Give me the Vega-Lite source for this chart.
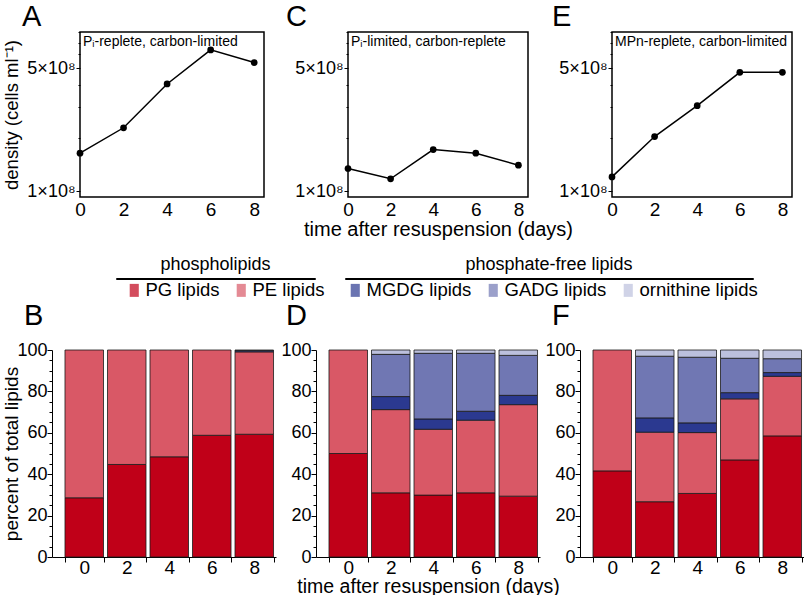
{
  "$schema": "https://vega.github.io/schema/vega-lite/v6.json",
  "padding": {"left": 2, "top": 1, "right": 0, "bottom": 0},
  "background": "white",
  "config": {
    "font": "Liberation Sans",
    "view": {"stroke": null},
    "axis": {"labelFont": "Liberation Sans", "titleFont": "Liberation Sans", "labelColor": "black", "titleColor": "black", "domainColor": "black", "tickColor": "black", "grid": false, "titleFontWeight": "normal"},
    "title": {"fontWeight": "normal", "fontSize": 29, "anchor": "start", "frame": "group", "color": "black", "font": "Liberation Sans"},
    "legend": {"labelFont": "Liberation Sans", "labelColor": "black"}
  },
  "datasets": {
    "density": [
      {"panel": "A", "day": 0, "density": 165000000},
      {"panel": "A", "day": 2, "density": 230000000},
      {"panel": "A", "day": 4, "density": 408000000},
      {"panel": "A", "day": 6, "density": 637000000},
      {"panel": "A", "day": 8, "density": 540000000},
      {"panel": "C", "day": 0, "density": 135000000},
      {"panel": "C", "day": 2, "density": 118000000},
      {"panel": "C", "day": 4, "density": 173000000},
      {"panel": "C", "day": 6, "density": 165000000},
      {"panel": "C", "day": 8, "density": 141000000},
      {"panel": "E", "day": 0, "density": 121000000},
      {"panel": "E", "day": 2, "density": 205000000},
      {"panel": "E", "day": 4, "density": 307000000},
      {"panel": "E", "day": 6, "density": 475000000},
      {"panel": "E", "day": 8, "density": 475000000}
    ],
    "conditions": [
      {"panel": "A", "label": "Pᵢ-replete, carbon-limited"},
      {"panel": "C", "label": "Pᵢ-limited, carbon-replete"},
      {"panel": "E", "label": "MPn-replete, carbon-limited"}
    ],
    "lipids": [
      {"panel": "B", "day": 0, "lipid": "PG lipids", "percent": 28.6},
      {"panel": "B", "day": 0, "lipid": "PE lipids", "percent": 71.4},
      {"panel": "B", "day": 2, "lipid": "PG lipids", "percent": 44.7},
      {"panel": "B", "day": 2, "lipid": "PE lipids", "percent": 55.3},
      {"panel": "B", "day": 4, "lipid": "PG lipids", "percent": 48.4},
      {"panel": "B", "day": 4, "lipid": "PE lipids", "percent": 51.6},
      {"panel": "B", "day": 6, "lipid": "PG lipids", "percent": 58.8},
      {"panel": "B", "day": 6, "lipid": "PE lipids", "percent": 41.2},
      {"panel": "B", "day": 8, "lipid": "PG lipids", "percent": 59.3},
      {"panel": "B", "day": 8, "lipid": "PE lipids", "percent": 39.8},
      {"panel": "B", "day": 8, "lipid": "MGDG lipids", "percent": 0.6},
      {"panel": "B", "day": 8, "lipid": "GADG lipids", "percent": 0.3},
      {"panel": "D", "day": 0, "lipid": "PG lipids", "percent": 50.0},
      {"panel": "D", "day": 0, "lipid": "PE lipids", "percent": 50.0},
      {"panel": "D", "day": 2, "lipid": "PG lipids", "percent": 31.0},
      {"panel": "D", "day": 2, "lipid": "PE lipids", "percent": 40.2},
      {"panel": "D", "day": 2, "lipid": "MGDG lipids", "percent": 6.3},
      {"panel": "D", "day": 2, "lipid": "GADG lipids", "percent": 20.4},
      {"panel": "D", "day": 2, "lipid": "ornithine lipids", "percent": 2.1},
      {"panel": "D", "day": 4, "lipid": "PG lipids", "percent": 29.9},
      {"panel": "D", "day": 4, "lipid": "PE lipids", "percent": 31.8},
      {"panel": "D", "day": 4, "lipid": "MGDG lipids", "percent": 5.0},
      {"panel": "D", "day": 4, "lipid": "GADG lipids", "percent": 31.7},
      {"panel": "D", "day": 4, "lipid": "ornithine lipids", "percent": 1.6},
      {"panel": "D", "day": 6, "lipid": "PG lipids", "percent": 31.0},
      {"panel": "D", "day": 6, "lipid": "PE lipids", "percent": 35.1},
      {"panel": "D", "day": 6, "lipid": "MGDG lipids", "percent": 4.3},
      {"panel": "D", "day": 6, "lipid": "GADG lipids", "percent": 28.0},
      {"panel": "D", "day": 6, "lipid": "ornithine lipids", "percent": 1.6},
      {"panel": "D", "day": 8, "lipid": "PG lipids", "percent": 29.4},
      {"panel": "D", "day": 8, "lipid": "PE lipids", "percent": 44.2},
      {"panel": "D", "day": 8, "lipid": "MGDG lipids", "percent": 4.5},
      {"panel": "D", "day": 8, "lipid": "GADG lipids", "percent": 19.3},
      {"panel": "D", "day": 8, "lipid": "ornithine lipids", "percent": 2.6},
      {"panel": "F", "day": 0, "lipid": "PG lipids", "percent": 41.6},
      {"panel": "F", "day": 0, "lipid": "PE lipids", "percent": 58.4},
      {"panel": "F", "day": 2, "lipid": "PG lipids", "percent": 26.7},
      {"panel": "F", "day": 2, "lipid": "PE lipids", "percent": 33.6},
      {"panel": "F", "day": 2, "lipid": "MGDG lipids", "percent": 6.9},
      {"panel": "F", "day": 2, "lipid": "GADG lipids", "percent": 29.8},
      {"panel": "F", "day": 2, "lipid": "ornithine lipids", "percent": 3.0},
      {"panel": "F", "day": 4, "lipid": "PG lipids", "percent": 30.7},
      {"panel": "F", "day": 4, "lipid": "PE lipids", "percent": 29.4},
      {"panel": "F", "day": 4, "lipid": "MGDG lipids", "percent": 4.7},
      {"panel": "F", "day": 4, "lipid": "GADG lipids", "percent": 31.7},
      {"panel": "F", "day": 4, "lipid": "ornithine lipids", "percent": 3.5},
      {"panel": "F", "day": 6, "lipid": "PG lipids", "percent": 46.9},
      {"panel": "F", "day": 6, "lipid": "PE lipids", "percent": 29.5},
      {"panel": "F", "day": 6, "lipid": "MGDG lipids", "percent": 3.0},
      {"panel": "F", "day": 6, "lipid": "GADG lipids", "percent": 16.6},
      {"panel": "F", "day": 6, "lipid": "ornithine lipids", "percent": 4.0},
      {"panel": "F", "day": 8, "lipid": "PG lipids", "percent": 58.5},
      {"panel": "F", "day": 8, "lipid": "PE lipids", "percent": 28.8},
      {"panel": "F", "day": 8, "lipid": "MGDG lipids", "percent": 1.8},
      {"panel": "F", "day": 8, "lipid": "GADG lipids", "percent": 6.7},
      {"panel": "F", "day": 8, "lipid": "ornithine lipids", "percent": 4.2}
    ]
  },
  "spacing": 1,
  "resolve": {"scale": {"color": "independent"}, "legend": {"color": "independent"}},
  "vconcat": [
    {
      "bounds": "flush",
      "spacing": 1,
      "hconcat": [
        {
          "width": 27, "height": 165,
          "data": {"name": "lipids"},
          "transform": [{"filter": "false"}],
          "mark": "point"
        },
        {
          "bounds": "flush",
          "spacing": 84,
          "resolve": {"scale": {"x": "independent", "y": "independent"}},
          "hconcat": [
            {
              "width": 184, "height": 165,
              "title": {"text": "A", "dx": -58, "offset": 0},
              "view": {"stroke": "black", "strokeWidth": 1.5},
              "layer": [
                {"data": {"name": "density"}, "transform": [{"filter": "datum.panel == 'A'"}], "mark": {"type": "line", "color": "black", "strokeWidth": 1.5},
                 "encoding": {
                  "x": {"field": "day", "type": "quantitative", "scale": {"domain": [0, 8.45], "nice": false}, "axis": {"values": [0, 2, 4, 6, 8], "ticks": false, "domain": false, "labelFontSize": 19, "labelPadding": 3, "labelFlush": false, "title": null}},
                  "y": {"field": "density", "type": "quantitative", "scale": {"type": "log", "domain": [93000000, 805000000], "nice": false}, "axis": {"values": [100000000, 200000000, 300000000, 400000000, 500000000, 600000000, 700000000, 800000000], "labelExpr": "datum.value == 100000000 ? '1×10⁸' : datum.value == 500000000 ? '5×10⁸' : ''", "tickSize": {"condition": {"test": "datum.value == 100000000 || datum.value == 500000000", "value": 4}, "value": 2}, "domain": false, "labelFontSize": 18, "labelPadding": 1, "labelFlush": false, "title": "density (cells ml⁻¹)", "titleFontSize": 18.5, "titlePadding": 5}}
                 }},
                {"data": {"name": "density"}, "transform": [{"filter": "datum.panel == 'A'"}], "mark": {"type": "circle", "color": "black", "size": 45, "opacity": 1},
                 "encoding": {"x": {"field": "day", "type": "quantitative"}, "y": {"field": "density", "type": "quantitative"}}},
                {"data": {"name": "conditions"}, "transform": [{"filter": "datum.panel == 'A'"}], "mark": {"type": "text", "align": "left", "baseline": "top", "dx": 3, "dy": 3, "fontSize": 14, "color": "black"},
                 "encoding": {"x": {"datum": 0, "type": "quantitative"}, "y": {"datum": 805000000, "type": "quantitative"}, "text": {"field": "label", "type": "nominal"}}}
              ]
            },
            {
              "width": 180, "height": 165,
              "title": {"text": "C", "dx": -62, "offset": 0},
              "view": {"stroke": "black", "strokeWidth": 1.5},
              "layer": [
                {"data": {"name": "density"}, "transform": [{"filter": "datum.panel == 'C'"}], "mark": {"type": "line", "color": "black", "strokeWidth": 1.5},
                 "encoding": {
                  "x": {"field": "day", "type": "quantitative", "scale": {"domain": [0, 8.45], "nice": false}, "axis": {"values": [0, 2, 4, 6, 8], "ticks": false, "domain": false, "labelFontSize": 19, "labelPadding": 3, "labelFlush": false, "title": "time after resuspension (days)", "titleFontSize": 20, "titlePadding": 0}},
                  "y": {"field": "density", "type": "quantitative", "scale": {"type": "log", "domain": [93000000, 805000000], "nice": false}, "axis": {"values": [100000000, 200000000, 300000000, 400000000, 500000000, 600000000, 700000000, 800000000], "labelExpr": "datum.value == 100000000 ? '1×10⁸' : datum.value == 500000000 ? '5×10⁸' : ''", "tickSize": {"condition": {"test": "datum.value == 100000000 || datum.value == 500000000", "value": 4}, "value": 2}, "domain": false, "labelFontSize": 18, "labelPadding": 1, "labelFlush": false, "title": null}}
                 }},
                {"data": {"name": "density"}, "transform": [{"filter": "datum.panel == 'C'"}], "mark": {"type": "circle", "color": "black", "size": 45, "opacity": 1},
                 "encoding": {"x": {"field": "day", "type": "quantitative"}, "y": {"field": "density", "type": "quantitative"}}},
                {"data": {"name": "conditions"}, "transform": [{"filter": "datum.panel == 'C'"}], "mark": {"type": "text", "align": "left", "baseline": "top", "dx": 3, "dy": 3, "fontSize": 14, "color": "black"},
                 "encoding": {"x": {"datum": 0, "type": "quantitative"}, "y": {"datum": 805000000, "type": "quantitative"}, "text": {"field": "label", "type": "nominal"}}}
              ]
            },
            {
              "width": 180, "height": 165,
              "title": {"text": "E", "dx": -60, "offset": 0},
              "view": {"stroke": "black", "strokeWidth": 1.5},
              "layer": [
                {"data": {"name": "density"}, "transform": [{"filter": "datum.panel == 'E'"}], "mark": {"type": "line", "color": "black", "strokeWidth": 1.5},
                 "encoding": {
                  "x": {"field": "day", "type": "quantitative", "scale": {"domain": [0, 8.45], "nice": false}, "axis": {"values": [0, 2, 4, 6, 8], "ticks": false, "domain": false, "labelFontSize": 19, "labelPadding": 3, "labelFlush": false, "title": null}},
                  "y": {"field": "density", "type": "quantitative", "scale": {"type": "log", "domain": [93000000, 805000000], "nice": false}, "axis": {"values": [100000000, 200000000, 300000000, 400000000, 500000000, 600000000, 700000000, 800000000], "labelExpr": "datum.value == 100000000 ? '1×10⁸' : datum.value == 500000000 ? '5×10⁸' : ''", "tickSize": {"condition": {"test": "datum.value == 100000000 || datum.value == 500000000", "value": 4}, "value": 2}, "domain": false, "labelFontSize": 18, "labelPadding": 1, "labelFlush": false, "title": null}}
                 }},
                {"data": {"name": "density"}, "transform": [{"filter": "datum.panel == 'E'"}], "mark": {"type": "circle", "color": "black", "size": 45, "opacity": 1},
                 "encoding": {"x": {"field": "day", "type": "quantitative"}, "y": {"field": "density", "type": "quantitative"}}},
                {"data": {"name": "conditions"}, "transform": [{"filter": "datum.panel == 'E'"}], "mark": {"type": "text", "align": "left", "baseline": "top", "dx": 3, "dy": 3, "fontSize": 14, "color": "black"},
                 "encoding": {"x": {"datum": 0, "type": "quantitative"}, "y": {"datum": 805000000, "type": "quantitative"}, "text": {"field": "label", "type": "nominal"}}}
              ]
            }
          ]
        }
      ]
    },
    {
      "spacing": 18,
      "resolve": {"scale": {"color": "independent"}, "legend": {"color": "independent"}},
      "hconcat": [
        {
          "width": 45, "height": 1,
          "data": {"name": "lipids"},
          "transform": [{"filter": "false"}],
          "mark": "point"
        },
        {
          "width": 199, "height": 1,
          "view": {"stroke": "black", "strokeWidth": 1},
          "title": {"text": ["", "phospholipids"], "lineHeight": 14, "fontSize": 18, "anchor": "middle", "offset": 4},
          "data": {"name": "lipids"},
          "transform": [{"filter": "false"}],
          "mark": "square",
          "encoding": {
            "color": {"field": "lipid", "type": "nominal", "scale": {"domain": ["PG lipids", "PE lipids"], "range": ["#C00018", "#D95866"]}, "legend": {"orient": "none", "legendX": 9, "legendY": 3, "direction": "horizontal", "title": null, "symbolType": "M-0.7,-1H0.7V1H-0.7Z", "symbolSize": 169, "symbolStrokeWidth": 0, "labelFontSize": 18.5, "columnPadding": 12, "labelOffset": 2, "padding": 0}}
          }
        },
        {
          "width": 408, "height": 1,
          "view": {"stroke": "black", "strokeWidth": 1},
          "title": {"text": ["", "phosphate-free lipids"], "lineHeight": 14, "fontSize": 18, "anchor": "middle", "offset": 4},
          "data": {"name": "lipids"},
          "transform": [{"filter": "false"}],
          "mark": "square",
          "encoding": {
            "color": {"field": "lipid", "type": "nominal", "scale": {"domain": ["MGDG lipids", "GADG lipids", "ornithine lipids"], "range": ["#2B3990", "#7077B3", "#BCC0DD"]}, "legend": {"orient": "none", "legendX": 1, "legendY": 3, "direction": "horizontal", "title": null, "symbolType": "M-0.7,-1H0.7V1H-0.7Z", "symbolSize": 169, "symbolStrokeWidth": 0, "labelFontSize": 18.5, "columnPadding": 12, "labelOffset": 2, "padding": 0}}
          }
        }
      ]
    },
    {
      "bounds": "flush",
      "spacing": 40,
      "resolve": {"scale": {"x": "independent", "y": "independent"}},
      "hconcat": [
        {
          "width": 224, "height": 207,
          "title": {"text": "B", "dx": -28, "offset": 10},
          "data": {"name": "lipids"},
          "transform": [{"filter": "datum.panel == 'B'"}, {"calculate": "indexof(['PG lipids', 'PE lipids', 'MGDG lipids', 'GADG lipids', 'ornithine lipids'], datum.lipid)", "as": "stackOrder"}],
          "mark": {"type": "bar", "stroke": "#1a1a1a", "strokeWidth": 0.8},
          "encoding": {
            "x": {"field": "day", "type": "ordinal", "scale": {"paddingInner": 0.094, "paddingOuter": 0.182, "align": 0.84}, "axis": {"labelAngle": 0, "tickBand": "extent", "tickSize": 5, "labelFontSize": 19, "labelPadding": -4, "title": null}},
            "y": {"field": "percent", "type": "quantitative", "stack": "zero", "scale": {"domain": [0, 100], "nice": false}, "axis": {"values": [0, 5, 10, 15, 20, 25, 30, 35, 40, 45, 50, 55, 60, 65, 70, 75, 80, 85, 90, 95, 100], "labelExpr": "datum.value % 20 == 0 ? datum.label : ''", "tickSize": {"condition": {"test": "datum.value % 20 == 0", "value": 5}, "value": 3}, "labelFontSize": 18, "labelPadding": 0, "labelFlush": false, "title": "percent of total lipids", "titleFontSize": 19, "titlePadding": -5}},
            "color": {"field": "lipid", "type": "nominal", "scale": {"domain": ["PG lipids", "PE lipids", "MGDG lipids", "GADG lipids", "ornithine lipids"], "range": ["#C00018", "#D95866", "#2B3990", "#7077B3", "#BCC0DD"]}, "legend": null},
            "order": {"field": "stackOrder", "type": "quantitative"}
          }
        },
        {
          "width": 224, "height": 207,
          "title": {"text": "D", "dx": -30, "offset": 10},
          "data": {"name": "lipids"},
          "transform": [{"filter": "datum.panel == 'D'"}, {"calculate": "indexof(['PG lipids', 'PE lipids', 'MGDG lipids', 'GADG lipids', 'ornithine lipids'], datum.lipid)", "as": "stackOrder"}],
          "mark": {"type": "bar", "stroke": "#1a1a1a", "strokeWidth": 0.8},
          "encoding": {
            "x": {"field": "day", "type": "ordinal", "scale": {"paddingInner": 0.094, "paddingOuter": 0.182, "align": 0.84}, "axis": {"labelAngle": 0, "tickBand": "extent", "tickSize": 5, "labelFontSize": 19, "labelPadding": -4, "title": "time after resuspension (days)", "titleFontSize": 19.5, "titlePadding": 0}},
            "y": {"field": "percent", "type": "quantitative", "stack": "zero", "scale": {"domain": [0, 100], "nice": false}, "axis": {"values": [0, 5, 10, 15, 20, 25, 30, 35, 40, 45, 50, 55, 60, 65, 70, 75, 80, 85, 90, 95, 100], "labelExpr": "datum.value % 20 == 0 ? datum.label : ''", "tickSize": {"condition": {"test": "datum.value % 20 == 0", "value": 5}, "value": 3}, "labelFontSize": 18, "labelPadding": 0, "labelFlush": false, "title": null}},
            "color": {"field": "lipid", "type": "nominal", "scale": {"domain": ["PG lipids", "PE lipids", "MGDG lipids", "GADG lipids", "ornithine lipids"], "range": ["#C00018", "#D95866", "#2B3990", "#7077B3", "#BCC0DD"]}, "legend": null},
            "order": {"field": "stackOrder", "type": "quantitative"}
          }
        },
        {
          "width": 224, "height": 207,
          "title": {"text": "F", "dx": -28, "offset": 10},
          "data": {"name": "lipids"},
          "transform": [{"filter": "datum.panel == 'F'"}, {"calculate": "indexof(['PG lipids', 'PE lipids', 'MGDG lipids', 'GADG lipids', 'ornithine lipids'], datum.lipid)", "as": "stackOrder"}],
          "mark": {"type": "bar", "stroke": "#1a1a1a", "strokeWidth": 0.8},
          "encoding": {
            "x": {"field": "day", "type": "ordinal", "scale": {"paddingInner": 0.094, "paddingOuter": 0.182, "align": 0.84}, "axis": {"labelAngle": 0, "tickBand": "extent", "tickSize": 5, "labelFontSize": 19, "labelPadding": -4, "title": null}},
            "y": {"field": "percent", "type": "quantitative", "stack": "zero", "scale": {"domain": [0, 100], "nice": false}, "axis": {"values": [0, 5, 10, 15, 20, 25, 30, 35, 40, 45, 50, 55, 60, 65, 70, 75, 80, 85, 90, 95, 100], "labelExpr": "datum.value % 20 == 0 ? datum.label : ''", "tickSize": {"condition": {"test": "datum.value % 20 == 0", "value": 5}, "value": 3}, "labelFontSize": 18, "labelPadding": 0, "labelFlush": false, "title": null}},
            "color": {"field": "lipid", "type": "nominal", "scale": {"domain": ["PG lipids", "PE lipids", "MGDG lipids", "GADG lipids", "ornithine lipids"], "range": ["#C00018", "#D95866", "#2B3990", "#7077B3", "#BCC0DD"]}, "legend": null},
            "order": {"field": "stackOrder", "type": "quantitative"}
          }
        }
      ]
    }
  ]
}
